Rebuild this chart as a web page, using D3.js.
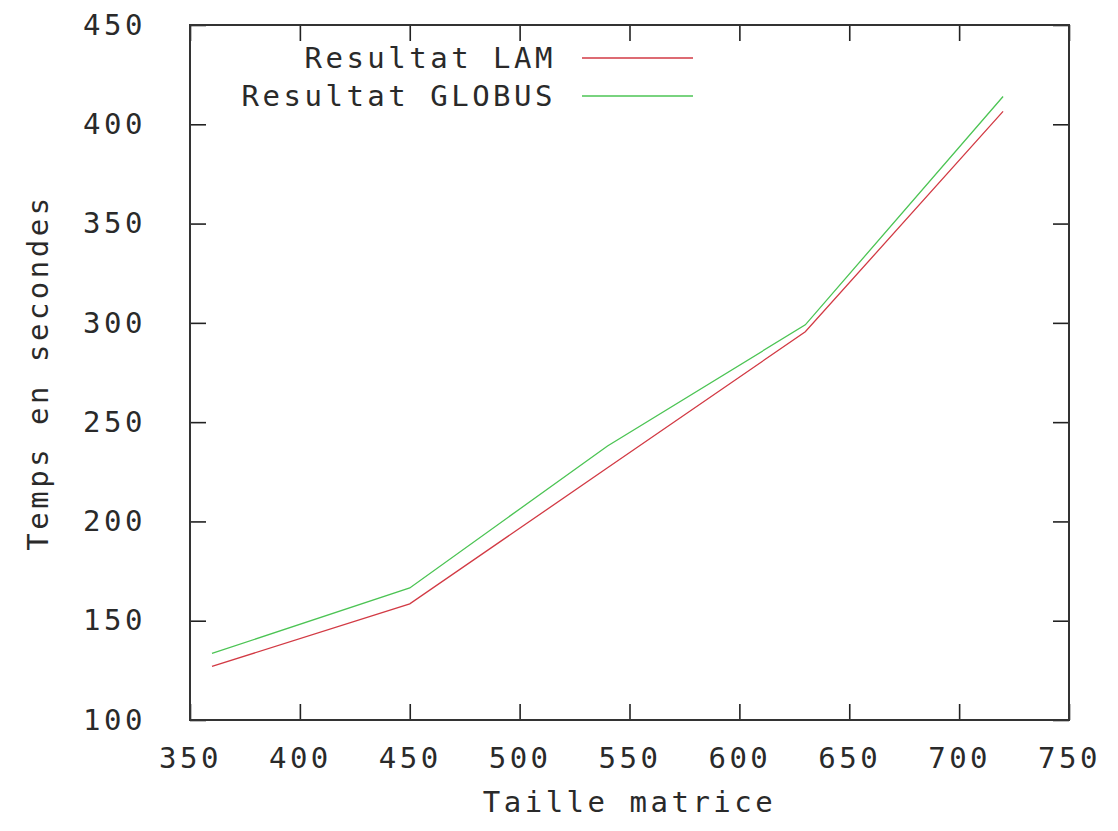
<!DOCTYPE html>
<html>
<head>
<meta charset="utf-8">
<script src="https://cdn.jsdelivr.net/npm/d3@7"></script>
<style>
  body { margin: 0; background: #fff; }
  text { font-family: "DejaVu Sans Mono", monospace; font-size: 29px; fill: #2a2a2a; letter-spacing: 3.5px; }
</style>
</head>
<body>
<svg id="chart"></svg>
<script>
// matrix sizes
const sizes = [360, 450, 540, 630, 720];
// time in seconds
const lamTimes = [127, 158.5, 227, 295.5, 406.5];
const globusTimes = [133.5, 166.5, 238, 299, 414];

const xTicks = [350, 400, 450, 500, 550, 600, 650, 700, 750];
const yTicks = [100, 150, 200, 250, 300, 350, 400, 450];

const series = [
    {name: 'Resultat LAM', values: lamTimes, color: '#d23a44'},
    {name: 'Resultat GLOBUS', values: globusTimes, color: '#4cc454'}
];

const width = 1118, height = 831;
const margin = {left: 190, right: 49, top: 25, bottom: 111};
const svg = d3.select('#chart').attr('width', width).attr('height', height);

const x = d3.scaleLinear().domain([350, 750]).range([margin.left, width - margin.right]);
const y = d3.scaleLinear().domain([100, 450]).range([height - margin.bottom, margin.top]);

const tickLen = 16;

// axes (ticks inside, mirrored on all sides)
svg.append('g')
    .attr('transform', 'translate(0,' + (height - margin.bottom) + ')')
    .call(d3.axisBottom(x).tickValues(xTicks).tickSizeInner(-tickLen).tickSizeOuter(0).tickPadding(tickLen + 11))
    .call(g => g.select('.domain').remove());
svg.append('g')
    .attr('transform', 'translate(0,' + margin.top + ')')
    .call(d3.axisTop(x).tickValues(xTicks).tickSizeInner(-tickLen).tickSizeOuter(0).tickFormat(''))
    .call(g => g.select('.domain').remove());
svg.append('g')
    .attr('transform', 'translate(' + margin.left + ',0)')
    .call(d3.axisLeft(y).tickValues(yTicks).tickSizeInner(-tickLen).tickSizeOuter(0).tickPadding(tickLen + 28))
    .call(g => g.select('.domain').remove());
svg.append('g')
    .attr('transform', 'translate(' + (width - margin.right) + ',0)')
    .call(d3.axisRight(y).tickValues(yTicks).tickSizeInner(-tickLen).tickSizeOuter(0).tickFormat(''))
    .call(g => g.select('.domain').remove());

svg.selectAll('.tick line').attr('stroke', '#222').attr('stroke-width', 1.6);
svg.selectAll('.tick text').style('font-family', '"DejaVu Sans Mono", monospace').style('font-size', '29px').attr('fill', '#2a2a2a');

// frame
svg.append('rect')
    .attr('x', x(350)).attr('y', y(450))
    .attr('width', x(750) - x(350)).attr('height', y(100) - y(450))
    .attr('fill', 'none').attr('stroke', '#333').attr('stroke-width', 2);

// lines
const line = d3.line().x((d, i) => x(sizes[i])).y(d => y(d));
series.forEach(s => {
    svg.append('path')
        .datum(s.values)
        .attr('d', line)
        .attr('fill', 'none')
        .attr('stroke', s.color)
        .attr('stroke-width', 1.3);
});

// legend (gnuplot style, text right-justified)
series.forEach((s, i) => {
    const ly = 58 + i * 38;
    svg.append('text')
        .attr('x', 556).attr('y', ly)
        .attr('text-anchor', 'end')
        .attr('dominant-baseline', 'central')
        .text(s.name);
    svg.append('line')
        .attr('x1', 582).attr('x2', 693)
        .attr('y1', ly).attr('y2', ly)
        .attr('stroke', s.color).attr('stroke-width', 1.3);
});

// axis titles
svg.append('text')
    .attr('x', x(550)).attr('y', 802)
    .attr('text-anchor', 'middle')
    .attr('dominant-baseline', 'central')
    .text('Taille matrice');
svg.append('text')
    .attr('transform', 'translate(38,' + y(275) + ') rotate(-90)')
    .attr('text-anchor', 'middle')
    .attr('dominant-baseline', 'central')
    .text('Temps en secondes');
</script>
</body>
</html>
